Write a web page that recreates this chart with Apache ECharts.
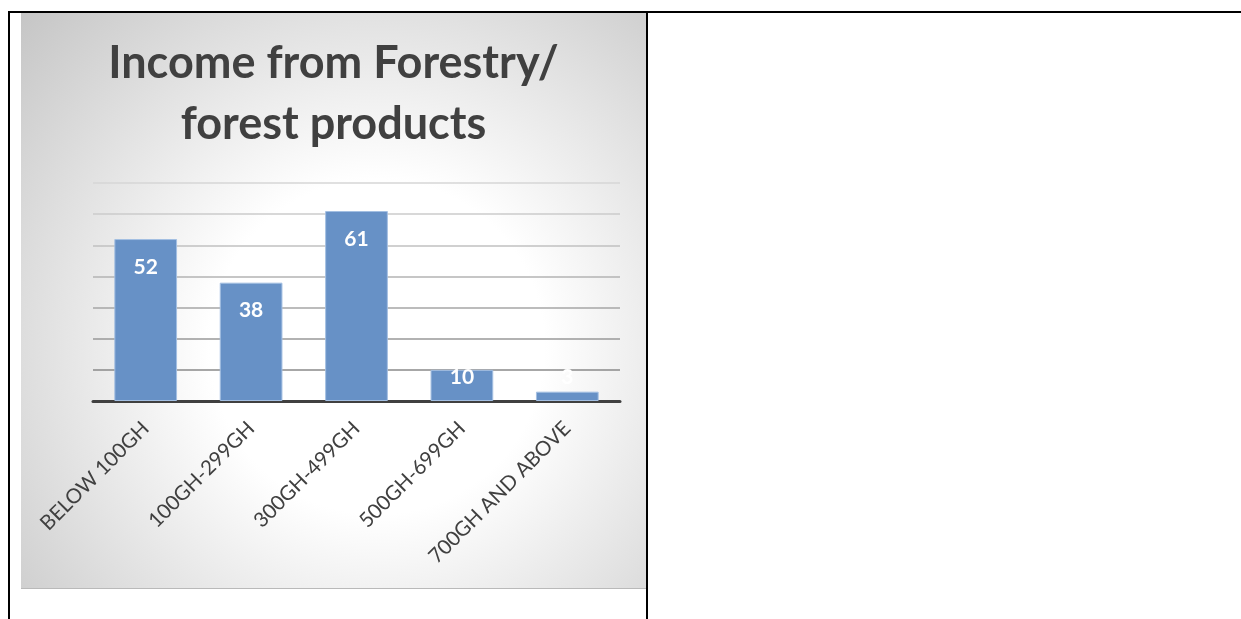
<!DOCTYPE html>
<html>
<head>
<meta charset="utf-8">
<script src="https://cdn.jsdelivr.net/npm/echarts@6/dist/echarts.min.js"></script>
<style>
  html, body { margin: 0; padding: 0; background: #fff; width: 1241px; height: 619px; overflow: hidden; }
  .rule { position: absolute; background: #000; }
  #chart { position: absolute; left: 21px; top: 13px; width: 625px; height: 576px; }
  #chart-edge { position: absolute; left: 21px; top: 588px; width: 625px; height: 1px; background: #b9b9b9; }
</style>
</head>
<body>
<!-- table cell rules -->
<div class="rule" style="left:8px; top:11px; width:1233px; height:2px;"></div>
<div class="rule" style="left:8px; top:11px; width:2px; height:608px;"></div>
<div class="rule" style="left:646px; top:11px; width:2px; height:608px;"></div>
<div id="chart"></div>
<div id="chart-edge"></div>
<script>
const titleLines = ['Income from Forestry/', 'forest products'];
const categories = ['BELOW 100GH', '100GH-299GH', '300GH-499GH', '500GH-699GH', '700GH AND ABOVE'];
const respondents = [52, 38, 61, 10, 3];
const yTicks = [0, 10, 20, 30, 40, 50, 60, 70];
// gridline shades, from the baseline upward
const gridShades = ['#8a8a8a', '#8a8a8a', '#999999', '#a6a6a6', '#b3b3b3', '#c0c0c0', '#cbcbcb', '#d6d6d6'];

const chart = echarts.init(document.getElementById('chart'), null, { renderer: 'canvas' });

chart.setOption({
  animation: false,
  backgroundColor: {
    type: 'radial', x: 0.57, y: 0.58, r: 0.88,
    colorStops: [
      { offset: 0, color: '#ffffff' },
      { offset: 0.33, color: '#ffffff' },
      { offset: 1, color: '#c2c2c2' }
    ]
  },
  title: {
    text: titleLines.join('\n'),
    left: 'center',
    top: 15,
    textStyle: {
      fontFamily: 'Lato', fontWeight: 'bold', fontSize: 45,
      color: '#404040', lineHeight: 61
    }
  },
  grid: { left: 72, right: 26, top: 170, bottom: 188 },
  xAxis: {
    type: 'category',
    data: categories,
    axisTick: { show: false },
    axisLine: { show: true, lineStyle: { color: '#404040', width: 3 } },
    axisLabel: {
      rotate: 45, interval: 0, margin: 24,
      fontFamily: 'Lato', fontSize: 20.5, color: '#404040'
    }
  },
  yAxis: {
    type: 'value',
    min: yTicks[0], max: yTicks[yTicks.length - 1], interval: 10,
    axisLabel: { show: false },
    axisLine: { show: false },
    axisTick: { show: false },
    splitLine: { show: true, lineStyle: { color: gridShades, width: 1.5 } }
  },
  series: [{
    type: 'bar',
    data: respondents,
    barWidth: '59.5%',
    itemStyle: { color: '#6791c6', borderColor: '#a3bfe2', borderWidth: 1 },
    label: {
      show: true,
      position: 'inside',
      fontFamily: 'Lato', fontWeight: 'bold', fontSize: 21, color: '#ffffff',
      align: 'center', verticalAlign: 'middle'
    },
    labelLayout: function (p) {
      const r = p.rect;
      return {
        x: r.x + r.width / 2,
        y: Math.min(r.y + 28, r.y + r.height - 24),
        align: 'center', verticalAlign: 'middle'
      };
    }
  }]
});
</script>
</body>
</html>
